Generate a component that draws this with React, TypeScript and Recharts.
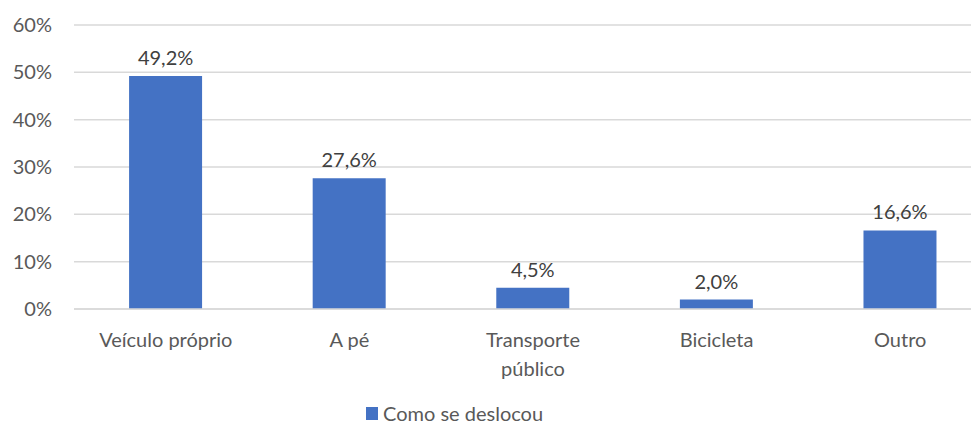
import { BarChart, Bar, XAxis, YAxis, CartesianGrid, LabelList, Legend } from 'recharts';

const categories = ['Veículo próprio', 'A pé', 'Transporte\npúblico', 'Bicicleta', 'Outro'];
const shares = [49.2, 27.6, 4.5, 2.0, 16.6];
const yTicks = [0, 10, 20, 30, 40, 50, 60];
const seriesName = 'Como se deslocou';

const data = categories.map((name, i) => ({ name, value: shares[i] }));

const FONT = 'Lato, "Open Sans", sans-serif';

const CategoryTick = (props: any) => {
  const { x, y, payload } = props;
  const lines = String(payload.value).split('\n');
  return (
    <text x={x} y={y + 30} textAnchor="middle" fill="#595959" fontSize={20} fontFamily={FONT}>
      {lines.map((line, i) => (
        <tspan key={i} x={x} dy={i === 0 ? 0 : 29}>
          {line}
        </tspan>
      ))}
    </text>
  );
};

const LegendContent = () => (
  <div style={{ display: 'flex', alignItems: 'center', fontFamily: FONT, fontSize: 20, color: '#595959', lineHeight: '22px' }}>
    <span style={{ width: 12, height: 13, background: '#4472c4', marginRight: 5, display: 'inline-block' }} />
    <span>{seriesName}</span>
  </div>
);

export default function App() {
  return (
    <div style={{ margin: -8, width: 979, height: 429, overflow: 'hidden', position: 'relative', background: '#fff' }}>
      <BarChart
        width={1000}
        height={429}
        data={data}
        margin={{ top: 25, right: 8, left: 0, bottom: 0 }}
        barCategoryGap="30%"
      >
        <CartesianGrid vertical={false} stroke="#d9d9d9" strokeWidth={1.5} />
        <XAxis
          dataKey="name"
          axisLine={{ stroke: '#d9d9d9', strokeWidth: 1.5 }}
          tickLine={false}
          height={98}
          interval={0}
          tick={<CategoryTick />}
        />
        <YAxis
          domain={[0, 60]}
          ticks={yTicks}
          width={74}
          axisLine={false}
          tickLine={false}
          tickFormatter={(v: number) => `${v}%`}
          tick={{ fill: '#595959', fontSize: 20, fontFamily: FONT, dx: -14 }}
        />
        <Legend
          content={<LegendContent />}
          wrapperStyle={{ position: 'absolute', left: 366, top: 402, width: 'auto', height: 'auto' }}
        />
        <Bar dataKey="value" name={seriesName} fill="#4472c4" isAnimationActive={false}>
          <LabelList
            dataKey="value"
            position="top"
            offset={11}
            formatter={(v: number) => `${v.toFixed(1).replace('.', ',')}%`}
            style={{ fill: '#404040', fontSize: 20, fontFamily: FONT }}
          />
        </Bar>
      </BarChart>
    </div>
  );
}
